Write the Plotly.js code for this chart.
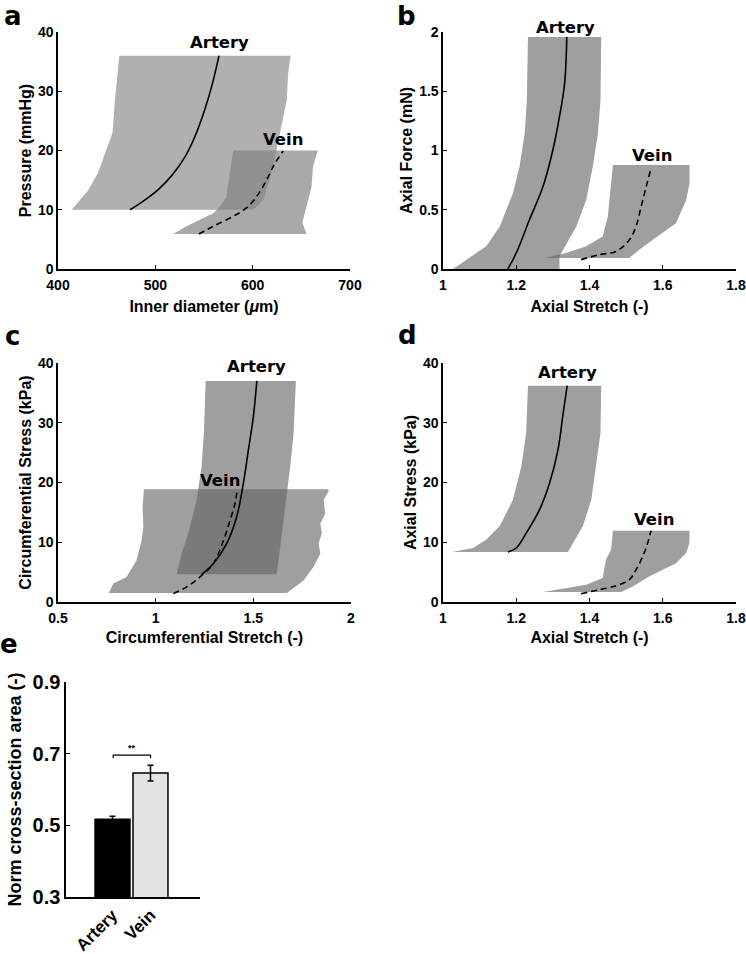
<!DOCTYPE html>
<html><head><meta charset="utf-8">
<script src="https://cdn.plot.ly/plotly-3.0.1.min.js"></script>
<style>html,body{margin:0;padding:0;background:#fff}</style></head>
<body><div id="chart" style="width:746px;height:954px"></div>
<script>
// ---------- Panel a: Pressure vs inner diameter ----------
const aArteryBandX = [463,639,636.5,635,628,621,611,600.5,414,431,441,450,456,458.5,461.5,463];
const aArteryBandY = [36,36,33,28.5,22.9,17.3,11.7,10,10,13.3,16.2,20.1,23,28.5,33,36];
const aVeinBandX = [580,667,662,660.5,651,655.4,518.3,532,545.7,559.4,566.3,573,576.5,580];
const aVeinBandY = [20,20,17.3,13.9,7.8,5.9,5.9,7.2,8.3,9.4,10.5,12.2,16.2,20];
const aArteryX = [474,488,503,517,530,541,551,559,565.4];
const aArteryY = [10,11.5,13.4,15.8,18.8,22.5,27.0,31.5,36];
const aVeinX = [544.7,559.4,580,593.7,604,614.3,622.8,631.4];
const aVeinY = [5.9,7.2,8.9,10.3,12.2,15.0,17.8,19.9];

// ---------- Panel b: Axial force vs axial stretch ----------
const bArteryBandX = [1.232,1.432,1.430,1.423,1.409,1.391,1.364,1.332,1.318,1.318,1.027,1.118,1.155,1.191,1.209,1.223,1.229,1.232];
const bArteryBandY = [1.958,1.958,1.425,1.144,0.864,0.583,0.359,0.191,0.107,0,0,0.191,0.359,0.64,0.864,1.144,1.425,1.958];
const bVeinBandX = [1.464,1.673,1.673,1.664,1.636,1.6,1.573,1.536,1.509,1.277,1.336,1.391,1.436,1.45,1.456,1.459,1.464];
const bVeinBandY = [0.878,0.878,0.724,0.583,0.387,0.303,0.247,0.163,0.093,0.093,0.135,0.191,0.275,0.443,0.611,0.752,0.878];
const bArteryX = [1.177,1.2,1.236,1.273,1.3,1.318,1.332,1.338];
const bArteryY = [0,0.135,0.415,0.696,1.004,1.285,1.565,1.958];
const bVeinX = [1.377,1.427,1.473,1.509,1.527,1.541,1.555,1.568];
const bVeinY = [0.079,0.121,0.149,0.247,0.359,0.527,0.696,0.85];

// ---------- Panel c: Circumferential stress vs stretch ----------
const cArteryBandX = [1.256,1.718,1.706,1.689,1.668,1.646,1.62,1.107,1.133,1.167,1.21,1.235,1.247,1.256];
const cArteryBandY = [37,37,28.3,22.7,17.1,11.5,4.64,4.64,8.1,11.5,17.1,22.7,28.3,37];
const cVeinBandX = [0.94,1.885,1.885,1.86,1.868,1.843,1.851,1.834,1.843,1.808,1.757,1.672,0.76,0.783,0.851,0.902,0.928,0.937,0.933,0.94];
const cVeinBandY = [18.85,18.85,18.5,17.1,14.8,13.1,11.5,9.8,8.1,5.9,3.6,1.51,1.51,3.1,4.2,7.0,10.3,12.6,15.9,18.85];
const cArteryX = [1.235,1.295,1.364,1.415,1.449,1.475,1.5,1.518];
const cArteryY = [4.6,6.4,9.8,14.3,19.9,25.5,31.0,37.0];
const cVeinX = [1.09,1.158,1.227,1.295,1.347,1.381,1.406,1.418];
const cVeinY = [1.4,2.5,4.2,6.4,10.3,13.7,16.5,18.85];

// ---------- Panel d: Axial stress vs axial stretch ----------
const dArteryBandX = [1.232,1.432,1.43,1.418,1.405,1.382,1.355,1.341,1.025,1.082,1.118,1.155,1.191,1.214,1.227,1.232];
const dArteryBandY = [36.2,36.2,28.3,22.7,17.1,12.7,9.9,8.37,8.37,9.04,10.4,12.7,17.1,22.7,28.3,36.2];
const dVeinBandX = [1.464,1.673,1.673,1.664,1.636,1.6,1.564,1.518,1.486,1.273,1.336,1.391,1.436,1.445,1.459,1.464];
const dVeinBandY = [11.94,11.94,9.9,8.2,6.5,5.4,4.3,2.6,1.67,1.67,2.34,2.9,4.0,7.1,8.8,11.94];
const dArteryX = [1.177,1.2,1.227,1.264,1.291,1.314,1.327,1.339];
const dArteryY = [8.37,9.04,11.5,15.5,19.9,25.5,31.1,36.2];
const dVeinX = [1.377,1.427,1.473,1.509,1.527,1.545,1.559,1.568];
const dVeinY = [1.39,2.06,2.73,3.74,5.4,7.6,9.9,11.94];

// ---------- Panel e: Norm cross-section area ----------
const eCategories = ['Artery','Vein'];
const eValues = [0.517, 0.646];
const eErrors = [0.008, 0.022];
const eColors = ['#000000','#e3e3e3'];
const eSig = '**';

// ---------- helpers ----------
const W = 746, H = 954;
const px = p => p / W;
const py = p => 1 - p / H;
const FONT = 'Liberation Sans, Arial, sans-serif';
const HEAVY = 'DejaVu Sans, sans-serif';

function band(x, y, xa, ya, color) {
  return {type:'scatter', mode:'lines', x:x, y:y, xaxis:xa, yaxis:ya, fill:'toself',
    fillcolor:color, line:{width:0, color:'rgba(0,0,0,0)'}, hoverinfo:'skip'};
}
function curve(x, y, xa, ya, dash) {
  return {type:'scatter', mode:'lines', x:x, y:y, xaxis:xa, yaxis:ya,
    line:{color:'#000', width:1.6, dash:dash, shape:'spline', smoothing:1}, hoverinfo:'skip'};
}

const bandA = 'rgba(128,128,128,0.62)';
const bandAV = 'rgba(128,128,128,0.68)';
const bandB = 'rgba(100,100,100,0.62)';
const DASH = '6px,4px';

const eX = eCategories.map((c,i) => i + 1);
const sigTop = Math.max(...eValues.map((v,i) => v + eErrors[i])) + 0.028;

const traces = [
  band(aArteryBandX, aArteryBandY, 'x', 'y', bandA),
  band(aVeinBandX, aVeinBandY, 'x', 'y', bandAV),
  curve(aArteryX, aArteryY, 'x', 'y', 'solid'),
  curve(aVeinX, aVeinY, 'x', 'y', DASH),

  band(bArteryBandX, bArteryBandY, 'x2', 'y2', bandB),
  band(bVeinBandX, bVeinBandY, 'x2', 'y2', bandB),
  curve(bArteryX, bArteryY, 'x2', 'y2', 'solid'),
  curve(bVeinX, bVeinY, 'x2', 'y2', DASH),

  band(cArteryBandX, cArteryBandY, 'x3', 'y3', bandB),
  band(cVeinBandX, cVeinBandY, 'x3', 'y3', bandB),
  curve(cArteryX, cArteryY, 'x3', 'y3', 'solid'),
  curve(cVeinX, cVeinY, 'x3', 'y3', DASH),

  band(dArteryBandX, dArteryBandY, 'x4', 'y4', bandB),
  band(dVeinBandX, dVeinBandY, 'x4', 'y4', bandB),
  curve(dArteryX, dArteryY, 'x4', 'y4', 'solid'),
  curve(dVeinX, dVeinY, 'x4', 'y4', DASH),

  {type:'bar', x:eX, y:eValues, xaxis:'x5', yaxis:'y5', width:0.92,
   marker:{color:eColors, line:{color:'#000', width:1.5}},
   error_y:{type:'data', array:eErrors, visible:true, color:'#000', thickness:1.5, width:3},
   base:0, hoverinfo:'skip'},
  {type:'scatter', mode:'lines', xaxis:'x5', yaxis:'y5',
   x:[eX[0]+0.02, eX[0]+0.02, eX[1], eX[1]], y:[sigTop-0.008, sigTop, sigTop, sigTop-0.008],
   line:{color:'#000', width:1.2}, hoverinfo:'skip'}
];

const tickfont = {family:FONT, size:14, color:'#000', weight:'bold'};
const titlefont = {family:FONT, size:16, color:'#000', weight:'bold'};
function axis(extra) {
  return Object.assign({showline:true, linecolor:'#000', linewidth:1.6, ticks:'inside', ticklen:4,
    tickwidth:1.4, tickcolor:'#000', showgrid:false, zeroline:false, tickfont:tickfont,
    fixedrange:true, automargin:false}, extra);
}
function xax(extra) { return axis(Object.assign({ticklabelstandoff:3}, extra)); }

const layout = {
  width:W, height:H, margin:{l:0,r:0,t:0,b:0}, paper_bgcolor:'#fff', plot_bgcolor:'rgba(0,0,0,0)',
  showlegend:false, bargap:0,
  xaxis: xax({domain:[px(58),px(350)], range:[400,700], tickvals:[400,500,600,700],
    title:{text:'Inner diameter (<i>μ</i>m)', font:titlefont, standoff:8}, anchor:'y'}),
  yaxis: axis({domain:[py(269),py(32)], range:[0,40], tickvals:[0,10,20,30,40],
    title:{text:'Pressure (mmHg)', font:titlefont, standoff:2}, anchor:'x'}),
  xaxis2: xax({domain:[px(443),px(736)], range:[1,1.8], tickvals:[1,1.2,1.4,1.6,1.8], ticktext:['1','1.2','1.4','1.6','1.8'],
    title:{text:'Axial Stretch (-)', font:titlefont, standoff:8}, anchor:'y2'}),
  yaxis2: axis({domain:[py(269),py(32)], range:[0,2], tickvals:[0,0.5,1,1.5,2], ticktext:['0','0.5','1','1.5','2'],
    title:{text:'Axial Force (mN)', font:titlefont, standoff:2}, anchor:'x2'}),
  xaxis3: xax({domain:[px(58),px(351)], range:[0.5,2], tickvals:[0.5,1,1.5,2], ticktext:['0.5','1','1.5','2'],
    title:{text:'Circumferential Stretch (-)', font:titlefont, standoff:6}, anchor:'y3'}),
  yaxis3: axis({domain:[py(602),py(363)], range:[0,40], tickvals:[0,10,20,30,40],
    title:{text:'Circumferential Stress (kPa)', font:titlefont, standoff:2}, anchor:'x3'}),
  xaxis4: xax({domain:[px(443),px(736)], range:[1,1.8], tickvals:[1,1.2,1.4,1.6,1.8], ticktext:['1','1.2','1.4','1.6','1.8'],
    title:{text:'Axial Stretch (-)', font:titlefont, standoff:6}, anchor:'y4'}),
  yaxis4: axis({domain:[py(602),py(363)], range:[0,40], tickvals:[0,10,20,30,40],
    title:{text:'Axial Stress (kPa)', font:titlefont, standoff:2}, anchor:'x4'}),
  xaxis5: axis({domain:[px(66),px(200)], range:[-0.224,3.303], tickvals:eX, ticktext:eCategories,
    ticks:'', tickangle:-45, tickfont:{family:FONT, size:17, color:'#000', weight:'bold'}, anchor:'y5'}),
  yaxis5: axis({domain:[py(897),py(682)], range:[0.3,0.9], tickvals:[0.3,0.5,0.7,0.9], ticktext:['0.3','0.5','0.7','0.9'],
    tickfont:{family:FONT, size:20, color:'#000', weight:'bold'},
    title:{text:'Norm cross-section area (-)', font:{family:FONT, size:18, color:'#000', weight:'bold'}, standoff:6}, anchor:'x5'}),
  annotations: []
};

const labelFont = {family:HEAVY, size:16.5, color:'#000', weight:'bold'};
const letterFont = {family:HEAVY, size:26, color:'#000', weight:'bold'};
const ann = layout.annotations;
function dataLabel(text, xr, yr, x, y, yshift) {
  ann.push({text:text, xref:xr, yref:yr, x:x, y:y, xanchor:'center', yanchor:'middle', showarrow:false, font:labelFont, yshift:yshift||0});
}
dataLabel('Artery','x','y',566,38.3);
dataLabel('Vein','x','y',631,21.8);
dataLabel('Artery','x2','y2',1.335,2,5);
dataLabel('Vein','x2','y2',1.571,0.962);
dataLabel('Artery','x3','y3',1.514,39.4);
dataLabel('Vein','x3','y3',1.33,20.3);
dataLabel('Artery','x4','y4',1.341,38.4);
dataLabel('Vein','x4','y4',1.575,13.8);
ann.push({text:eSig, xref:'x5', yref:'y5', x:(eX[0]+eX[1])/2, y:sigTop, xanchor:'center', yanchor:'bottom',
  showarrow:false, font:{family:FONT, size:9, color:'#000', weight:'bold'}});

function letter(t, x, y) {
  ann.push({text:t, xref:'paper', yref:'paper', x:px(x), y:py(y), xanchor:'center', yanchor:'middle', showarrow:false, font:letterFont});
}
letter('a', 13, 16);
letter('b', 406, 16);
letter('c', 12, 336);
letter('d', 407, 335);
letter('e', 9, 644);

Plotly.newPlot('chart', traces, layout, {staticPlot:true, displayModeBar:false});
</script></body></html>
